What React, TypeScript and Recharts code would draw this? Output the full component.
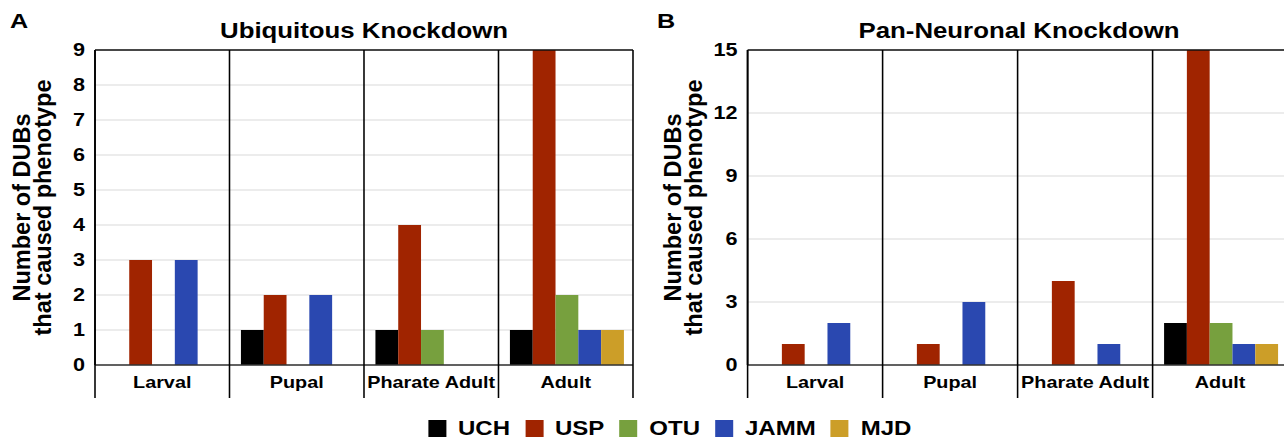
import React from 'react';
import { BarChart, Bar, XAxis, YAxis, CartesianGrid, ReferenceLine } from 'recharts';

const categories = ['Larval', 'Pupal', 'Pharate Adult', 'Adult'];
const seriesNames = ['UCH', 'USP', 'OTU', 'JAMM', 'MJD'];
const seriesColors = ['#000000', '#a02400', '#77a03e', '#2a48b0', '#cc9e28'];

// panel A - ubiquitous knockdown
const ubiqUCH = [0, 1, 1, 1];
const ubiqUSP = [3, 2, 4, 9];
const ubiqOTU = [0, 0, 1, 2];
const ubiqJAMM = [3, 2, 0, 1];
const ubiqMJD = [0, 0, 0, 1];
const ubiqTicks = [0, 1, 2, 3, 4, 5, 6, 7, 8, 9];

// panel B - pan-neuronal knockdown
const panUCH = [0, 0, 0, 2];
const panUSP = [1, 1, 4, 15];
const panOTU = [0, 0, 0, 2];
const panJAMM = [2, 3, 1, 1];
const panMJD = [0, 0, 0, 1];
const panTicks = [0, 3, 6, 9, 12, 15];

// the figure looks horizontally stretched, so draw narrow and scale
const S = 1.2;
const sx = (v: number) => v / S;
const PLOT_H = 315;
const FONT = '"Liberation Sans", Arial, Helvetica, sans-serif';

const buildRows = (cols: number[][]) =>
  categories.map((category, i) => {
    const row: Record<string, any> = { category };
    seriesNames.forEach((n, k) => {
      row[n] = cols[k][i];
    });
    return row;
  });

const ubiqRows = buildRows([ubiqUCH, ubiqUSP, ubiqOTU, ubiqJAMM, ubiqMJD]);
const panRows = buildRows([panUCH, panUSP, panOTU, panJAMM, panMJD]);

const makeTick = (bw: number) => (props: any) => {
  const { x, y, payload, index } = props;
  const last = index === categories.length - 1;
  return (
    <g>
      <line x1={x - bw / 2} x2={x - bw / 2} y1={y - PLOT_H} y2={y + 33} stroke="#000" strokeWidth={1.3} />
      {last && (
        <line x1={x + bw / 2} x2={x + bw / 2} y1={y - PLOT_H} y2={y + 33} stroke="#000" strokeWidth={1.3} />
      )}
      <text x={x} y={y} dy={23} textAnchor="middle" fontSize={16.5} fontWeight={700} fill="#000">
        {payload.value}
      </text>
    </g>
  );
};

interface PanelProps {
  rows: any[];
  ticks: number[];
  left: number;
  width: number;
  yAxisWidth: number;
  right: number;
}

const Panel: React.FC<PanelProps> = ({ rows, ticks, left, width, yAxisWidth, right }) => {
  const max = ticks[ticks.length - 1];
  const bw = (width - yAxisWidth - right) / categories.length;
  return (
    <div style={{ position: 'absolute', left, top: 0 }}>
      <BarChart
        width={width}
        height={400}
        data={rows}
        margin={{ top: 50, right, left: 0, bottom: 0 }}
        barCategoryGap="8.5%"
        barGap={0}
      >
        <CartesianGrid vertical={false} stroke="#d9d9d9" strokeWidth={1.2} />
        <ReferenceLine y={max} stroke="#111" strokeWidth={1.6} />
        <XAxis
          dataKey="category"
          interval={0}
          tickLine={false}
          tickSize={0}
          tickMargin={0}
          height={35}
          axisLine={{ stroke: '#333', strokeWidth: 1.5 }}
          tick={makeTick(bw)}
        />
        <YAxis
          type="number"
          domain={[0, max]}
          ticks={ticks}
          interval={0}
          width={yAxisWidth}
          tickLine={false}
          tickSize={0}
          tickMargin={sx(10)}
          axisLine={{ stroke: '#111', strokeWidth: 1.5 }}
          tick={{ fill: '#000', fontSize: 18, fontWeight: 700 }}
        />
        {seriesNames.map((n, i) => (
          <Bar key={n} dataKey={n} fill={seriesColors[i]} isAnimationActive={false} />
        ))}
      </BarChart>
    </div>
  );
};

// rotated label, counter-scaled so it is not widened by the stretch
const YLabel: React.FC<{ cx1: number; cx2: number }> = ({ cx1, cx2 }) => {
  const cy = 50 + PLOT_H / 2;
  const b1 = sx(cx1 + 8.5);
  const b2 = sx(cx2 + 6);
  return (
    <g fontSize={23.5} fontWeight={700} fill="#000" textAnchor="middle">
      <text transform={`translate(${b1}, ${cy}) scale(${1 / S}, 1) rotate(-90)`}>Number of DUBs</text>
      <text transform={`translate(${b2}, ${cy}) scale(${1 / S}, 1) rotate(-90)`}>that caused phenotype</text>
    </g>
  );
};

const App: React.FC = () => {
  const legendGap = sx(15);
  return (
    <div
      style={{
        position: 'absolute',
        left: 0,
        top: 0,
        width: 1284,
        height: 442,
        overflow: 'hidden',
        background: '#fff',
        fontFamily: FONT,
      }}
    >
      <div
        style={{
          position: 'absolute',
          left: 0,
          top: 0,
          width: sx(1284),
          height: 442,
          transform: `scaleX(${S})`,
          transformOrigin: '0 0',
        }}
      >
        <Panel rows={ubiqRows} ticks={ubiqTicks} left={0} width={sx(640)} yAxisWidth={sx(95)} right={sx(7)} />
        <Panel rows={panRows} ticks={panTicks} left={sx(640)} width={sx(648)} yAxisWidth={sx(108)} right={0} />

        <svg
          width={sx(1284)}
          height={442}
          style={{ position: 'absolute', left: 0, top: 0, pointerEvents: 'none' }}
        >
          <g fontWeight={700} fill="#000">
            <text x={sx(10)} y={28} fontSize={21}>A</text>
            <text x={sx(657)} y={28} fontSize={21}>B</text>
            <text x={sx(364)} y={38} fontSize={21.5} textAnchor="middle">Ubiquitous Knockdown</text>
            <text x={sx(1019)} y={38} fontSize={21.5} textAnchor="middle">Pan-Neuronal Knockdown</text>
          </g>
          <YLabel cx1={21} cx2={45} />
          <YLabel cx1={672} cx2={696} />
        </svg>

        <div
          style={{
            position: 'absolute',
            left: sx(428),
            top: 416,
            display: 'flex',
            alignItems: 'center',
            height: 24,
          }}
        >
          {seriesNames.map((n, i) => (
            <div key={n} style={{ display: 'flex', alignItems: 'center', marginRight: legendGap }}>
              <div style={{ width: sx(18), height: 17, background: seriesColors[i], marginRight: sx(12) }} />
              <span style={{ fontSize: 20, fontWeight: 700, color: '#000', lineHeight: '24px' }}>{n}</span>
            </div>
          ))}
        </div>
      </div>
    </div>
  );
};

export default App;
